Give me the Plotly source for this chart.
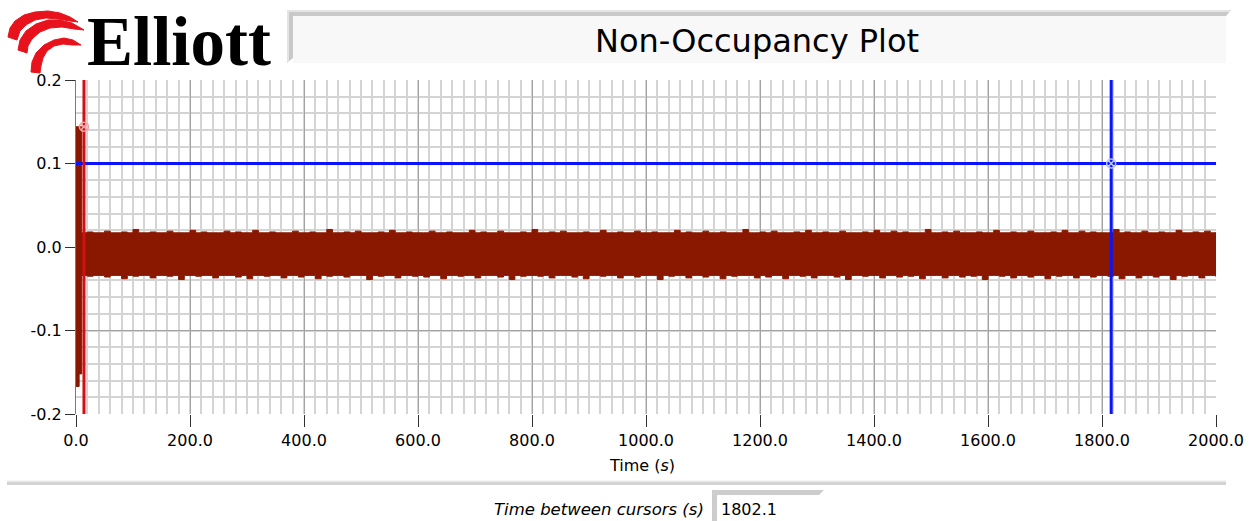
import plotly.graph_objects as go

# ---------------- data ----------------
t_start = [0.0, 5.5]
upper_start = [0.144, 0.144]
lower_start = [-0.167, -0.152]

t_noise = list(range(10, 2001, 10))
upper_noise_milli = [
    17, 18, 17, 17, 19, 17, 17, 18, 17, 21, 17, 17, 18, 17, 17, 19, 17, 17, 17, 20,
    17, 18, 17, 17, 17, 19, 17, 18, 17, 17, 20, 17, 17, 18, 17, 17, 17, 19, 17, 17,
    18, 17, 17, 21, 17, 17, 18, 17, 19, 17, 17, 17, 18, 17, 20, 17, 17, 18, 17, 17,
    17, 19, 17, 17, 18, 17, 17, 17, 20, 17, 18, 17, 17, 19, 17, 17, 17, 18, 17, 21,
    17, 17, 18, 17, 19, 17, 17, 17, 18, 17, 17, 20, 17, 17, 18, 17, 17, 19, 17, 17,
    18, 17, 17, 17, 20, 17, 18, 17, 17, 19, 17, 17, 18, 17, 17, 17, 21, 17, 17, 18,
    17, 19, 17, 17, 17, 18, 17, 20, 17, 17, 18, 17, 17, 19, 17, 17, 17, 18, 17, 20,
    17, 17, 19, 17, 18, 17, 17, 17, 21, 17, 17, 18, 17, 19, 17, 17, 17, 18, 17, 17,
    20, 17, 17, 18, 17, 17, 19, 17, 17, 17, 18, 17, 20, 17, 17, 19, 17, 18, 17, 17,
    17, 21, 17, 18, 17, 17, 19, 17, 17, 18, 17, 17, 20, 17, 17, 18, 17, 19, 17, 18,
]
lower_noise_milli = [
    -34, -35, -34, -34, -36, -34, -34, -38, -34, -35, -34, -34, -37, -34, -34, -35, -34, -39, -34, -34,
    -35, -34, -34, -37, -34, -34, -34, -36, -34, -38, -34, -34, -35, -34, -34, -37, -34, -34, -36, -34,
    -34, -38, -34, -35, -34, -34, -36, -34, -34, -34, -39, -34, -35, -34, -34, -37, -34, -34, -35, -34,
    -36, -34, -34, -38, -34, -34, -35, -34, -34, -37, -34, -34, -34, -36, -34, -39, -34, -35, -34, -34,
    -35, -34, -37, -34, -34, -34, -36, -34, -38, -34, -34, -35, -34, -34, -37, -34, -34, -36, -34, -34,
    -34, -39, -34, -35, -34, -34, -37, -34, -34, -36, -34, -34, -38, -34, -35, -34, -34, -34, -37, -34,
    -36, -34, -34, -38, -34, -34, -35, -34, -37, -34, -34, -34, -36, -34, -39, -34, -34, -35, -34, -34,
    -37, -34, -34, -36, -34, -35, -34, -38, -34, -34, -34, -37, -34, -34, -36, -34, -35, -34, -39, -34,
    -34, -35, -34, -37, -34, -34, -36, -34, -34, -38, -34, -35, -34, -34, -37, -34, -34, -36, -34, -34,
    -35, -34, -38, -34, -34, -37, -34, -34, -36, -34, -34, -39, -34, -35, -34, -34, -37, -34, -34, -36,
]

cursor_t = [14.0, 1816.1]
cursor_y = [0.144, 0.1]
time_between_cursors = "1802.1"

x_range = [0, 2000]
y_range = [-0.2, 0.2]
x_tick_vals = [0, 200, 400, 600, 800, 1000, 1200, 1400, 1600, 1800, 2000]
x_tick_text = ["0.0", "200.0", "400.0", "600.0", "800.0", "1000.0",
               "1200.0", "1400.0", "1600.0", "1800.0", "2000.0"]
y_tick_vals = [-0.2, -0.1, 0.0, 0.1, 0.2]
y_tick_text = ["-0.2", "-0.1", "0.0", "0.1", "0.2"]

# ---------------- layout helpers (pixels -> paper) ----------------
W, H = 1253, 521
PL, PR, PT, PB = 76, 1216, 80, 414


def px(x):
    return x / W


def py(y):
    return 1 - y / H


def path(points, close=True):
    """points: list of (command, [pixel pairs]); one command letter per parameter group."""
    nper = {"M": 1, "L": 1, "C": 3, "Q": 2}
    out = []
    for cmd, pts in points:
        n = nper[cmd]
        for i in range(0, len(pts), n):
            grp = pts[i:i + n]
            out.append(cmd + " ".join(f"{px(a):.5f},{py(b):.5f}" for a, b in grp))
    return " ".join(out) + (" Z" if close else "")


t_all = t_start + t_noise
upper_all = upper_start + [v / 1000 for v in upper_noise_milli]
lower_all = lower_start + [v / 1000 for v in lower_noise_milli]

BROWN = "#8a1800"
RED = "#d20f14"
BLUE = "#0a14ff"
FONT = "DejaVu Sans"

fig = go.Figure()
fig.add_trace(go.Scatter(x=t_all, y=lower_all, mode="lines", line=dict(color=BROWN, width=1, shape="hv"),
                         hoverinfo="skip", showlegend=False))
fig.add_trace(go.Scatter(x=t_all, y=upper_all, mode="lines", line=dict(color=BROWN, width=1, shape="hv"),
                         fill="tonexty", fillcolor=BROWN, hoverinfo="skip", showlegend=False))
# blue cursor (horizontal + vertical)
fig.add_trace(go.Scatter(x=x_range, y=[cursor_y[1], cursor_y[1]], mode="lines",
                         line=dict(color=BLUE, width=3), showlegend=False, hoverinfo="skip"))
fig.add_trace(go.Scatter(x=[cursor_t[1], cursor_t[1]], y=y_range, mode="lines",
                         line=dict(color=BLUE, width=3), showlegend=False, hoverinfo="skip"))
# red cursor (vertical)
fig.add_trace(go.Scatter(x=[cursor_t[0], cursor_t[0]], y=y_range, mode="lines",
                         line=dict(color=RED, width=3), showlegend=False, hoverinfo="skip"))
# cursor markers
fig.add_trace(go.Scatter(x=[cursor_t[0]], y=[cursor_y[0]], mode="markers",
                         marker=dict(symbol="circle-x-open", size=9, color="#f2a3a6", line=dict(width=1.5)),
                         showlegend=False, hoverinfo="skip"))
fig.add_trace(go.Scatter(x=[cursor_t[1]], y=[cursor_y[1]], mode="markers",
                         marker=dict(symbol="circle-x-open", size=9, color="#b8c4ff", line=dict(width=1.5)),
                         showlegend=False, hoverinfo="skip"))

fig.update_xaxes(
    domain=[px(PL), px(PR)], range=x_range, tickmode="array", tickvals=x_tick_vals, ticktext=x_tick_text,
    ticks="outside", ticklen=12, tickwidth=1, tickcolor="#303030",
    showgrid=True, gridcolor="#a3a3a3", gridwidth=1, zeroline=False, showline=False,
    minor=dict(tick0=0, dtick=20, showgrid=True, gridcolor="#d4d4d4", gridwidth=2, ticks=""),
    tickfont=dict(family=FONT, size=16, color="#000000"), automargin=False, fixedrange=True,
)
fig.update_yaxes(
    domain=[py(PB), py(PT)], range=y_range, tickmode="array", tickvals=y_tick_vals, ticktext=y_tick_text,
    ticks="outside", ticklen=10, tickwidth=1, tickcolor="#303030",
    showgrid=True, gridcolor="#a3a3a3", gridwidth=1, zeroline=False,
    showline=True, linecolor="#7a7a7a", linewidth=1,
    minor=dict(tick0=0, dtick=0.02, showgrid=True, gridcolor="#d4d4d4", gridwidth=2, ticks=""),
    tickfont=dict(family=FONT, size=16, color="#000000"), automargin=False, fixedrange=True,
)

shapes = []
# title box with 3D border
shapes.append(dict(type="path", xref="paper", yref="paper", layer="below", line=dict(width=0),
                   fillcolor="#c9c9c9",
                   path=path([("M", [(287, 63)]),
                              ("L", [(287, 10), (1231, 10), (1226, 16), (293, 16), (293, 58)])])))
shapes.append(dict(type="rect", xref="paper", yref="paper", layer="below", line=dict(width=0),
                   fillcolor="#f8f8f8", x0=px(293), x1=px(1226), y0=py(63), y1=py(16)))
shapes.append(dict(type="line", xref="paper", yref="paper", line=dict(color="#e4e4e4", width=2),
                   x0=px(287), x1=px(1230), y0=py(11), y1=py(11)))
shapes.append(dict(type="line", xref="paper", yref="paper", line=dict(color="#e4e4e4", width=2),
                   x0=px(288), x1=px(288), y0=py(11), y1=py(62)))
# bottom separator
shapes.append(dict(type="rect", xref="paper", yref="paper", line=dict(width=0), fillcolor="#d3d3d3",
                   x0=px(7), x1=px(1226), y0=py(485), y1=py(481.5)))
shapes.append(dict(type="line", xref="paper", yref="paper", line=dict(color="#ebebeb", width=1),
                   x0=px(7), x1=px(1226), y0=py(481), y1=py(481)))
# value box
shapes.append(dict(type="path", xref="paper", yref="paper", line=dict(width=0), fillcolor="#cdcdcd",
                   path=path([("M", [(712, 521)]),
                              ("L", [(712, 490), (824, 490), (819, 495), (717, 495), (717, 521)])])))
shapes.append(dict(type="rect", xref="paper", yref="paper", line=dict(width=0), fillcolor="#ffffff",
                   x0=px(717), x1=px(819), y0=py(521), y1=py(495)))
# logo swirl: three red ribbon crescents (polygons in pixel space)
swirl = [
    [(31, 72), (32, 62), (36, 53), (44, 45), (54, 40), (64, 38), (73, 40), (81, 45),
     (72, 45), (63, 44), (54, 46), (47, 51), (43, 58), (41, 66), (40, 73)],
    [(18, 50), (20, 40), (26, 31), (36, 24), (48, 20), (60, 20), (72, 23), (84, 30),
     (74, 29), (62, 27), (50, 28), (40, 32), (32, 39), (28, 46), (27, 53)],
    [(8, 37), (10, 28), (15, 21), (24, 15), (35, 12), (48, 11), (60, 13), (70, 17), (78, 22),
     (70, 21), (58, 19), (46, 18), (35, 20), (26, 25), (20, 31), (17, 40)],
]
for poly in swirl:
    shapes.append(dict(type="path", xref="paper", yref="paper", layer="above",
                       line=dict(width=1, color="#e8121c"), fillcolor="#e8121c",
                       path=path([("M", [poly[0]]), ("L", poly[1:])])))


def ann(text, x, y, xanchor, size, family=FONT):
    return dict(text=text, xref="paper", yref="paper", x=px(x), y=py(y), xanchor=xanchor, yanchor="middle",
                showarrow=False, font=dict(family=family, size=size, color="#000000"))


annotations = [
    ann("<b>Elliott</b>", 85, 42, "left", 69, "Liberation Serif"),
    ann("Non-Occupancy Plot", 757, 41, "center", 32),
    ann("Time (<i>s</i>)", 642, 465, "center", 16),
    ann("<i>Time between cursors (s)</i>", 706, 509, "right", 16.5),
    ann(time_between_cursors, 719, 509, "left", 16),
]

fig.update_layout(
    width=W, height=H, autosize=False, margin=dict(l=0, r=0, t=0, b=0, pad=0),
    paper_bgcolor="#ffffff", plot_bgcolor="#ffffff", showlegend=False,
    shapes=shapes, annotations=annotations,
)

fig.write_html("out.html", config={"displayModeBar": False},
               post_script="document.body.style.margin='0px';")
